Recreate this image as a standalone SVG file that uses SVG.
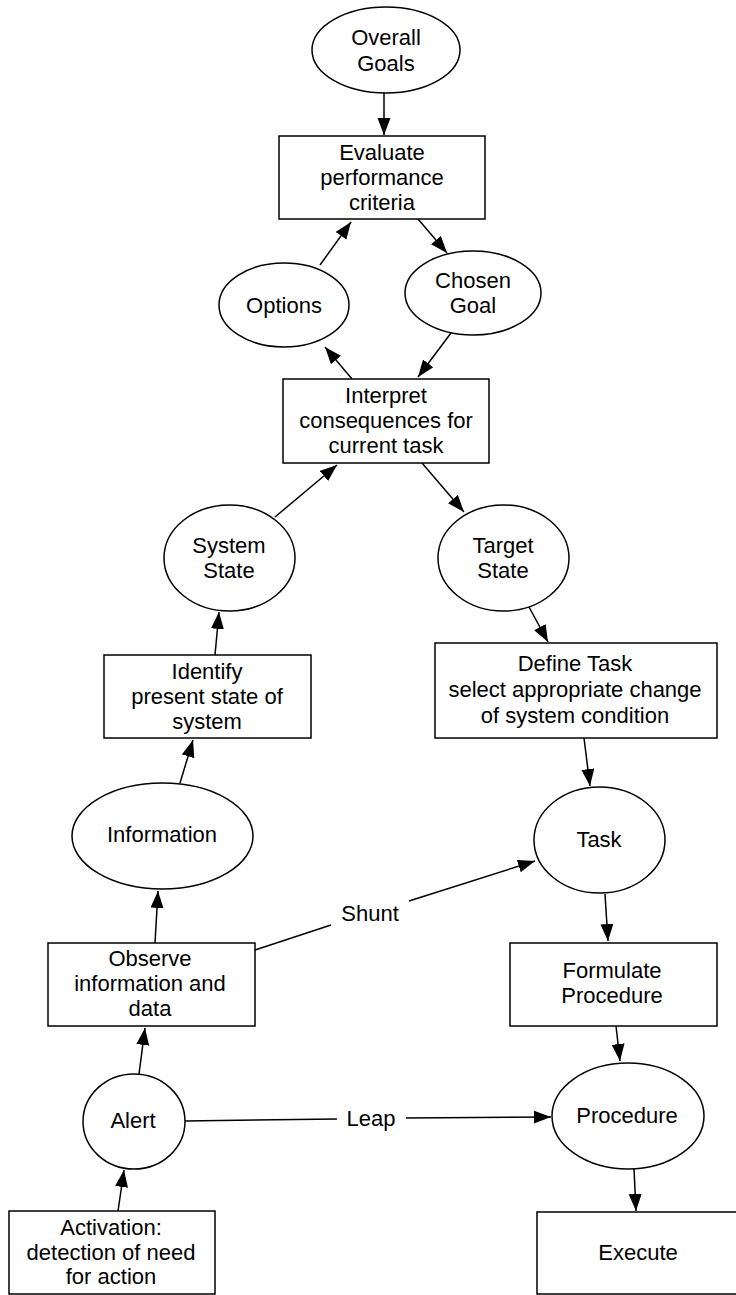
<svg xmlns="http://www.w3.org/2000/svg" width="736" height="1295" viewBox="0 0 736 1295">
  <style>
    .shape { fill: #ffffff; stroke: #000000; stroke-width: 1.5; }
    .edge { fill: none; stroke: #000000; stroke-width: 1.5; marker-end: url(#arrow); }
    .line { fill: none; stroke: #000000; stroke-width: 1.5; }
    text { font-family: "Liberation Sans", Arial, Helvetica, sans-serif; font-size: 22px; fill: #000000; text-anchor: middle; }
  </style>
  <defs>
    <marker id="arrow" markerUnits="userSpaceOnUse" markerWidth="18" markerHeight="14" refX="17" refY="6.5" orient="auto">
      <path d="M0,0 L17,6.5 L0,13 z" fill="#000000"/>
    </marker>
  </defs>
  <rect width="736" height="1295" fill="#ffffff"/>

  <!-- connectors -->
  <g id="connectors">
    <line class="edge" x1="384" y1="93" x2="384" y2="135"/>
    <line class="edge" x1="320" y1="265" x2="351" y2="222"/>
    <line class="edge" x1="418" y1="219" x2="447" y2="253"/>
    <line class="edge" x1="352" y1="379" x2="325" y2="347"/>
    <line class="edge" x1="451" y1="333" x2="418" y2="377"/>
    <line class="edge" x1="275" y1="517" x2="337" y2="465"/>
    <line class="edge" x1="422" y1="463" x2="464" y2="512"/>
    <line class="edge" x1="529" y1="607" x2="548" y2="642"/>
    <line class="edge" x1="215" y1="655" x2="219" y2="612"/>
    <line class="edge" x1="180" y1="783" x2="193" y2="740"/>
    <line class="edge" x1="584" y1="738" x2="590" y2="786"/>
    <line class="edge" x1="155" y1="943" x2="158" y2="891"/>
    <line class="edge" x1="605" y1="894" x2="608" y2="941"/>
    <line class="edge" x1="616" y1="1026" x2="620" y2="1061"/>
    <line class="edge" x1="139" y1="1074" x2="145" y2="1028"/>
    <line class="edge" x1="118" y1="1211" x2="124" y2="1170"/>
    <line class="edge" x1="634" y1="1169" x2="636" y2="1211"/>
    <!-- Shunt: Observe to Task -->
    <line class="line" x1="255" y1="950" x2="331" y2="925"/>
    <line class="edge" x1="409" y1="901" x2="535" y2="861"/>
    <text x="370" y="921">Shunt</text>
    <!-- Leap: Alert to Procedure -->
    <line class="line" x1="185" y1="1121" x2="337" y2="1119"/>
    <line class="edge" x1="406" y1="1118" x2="551" y2="1117"/>
    <text x="371" y="1126">Leap</text>
  </g>

  <g id="overall-goals">
    <ellipse class="shape" cx="386" cy="50" rx="74" ry="43"/>
    <text x="386" y="45">Overall</text>
    <text x="386" y="71">Goals</text>
  </g>

  <g id="evaluate">
    <rect class="shape" x="279" y="136" width="206" height="83"/>
    <text x="382" y="160">Evaluate</text>
    <text x="382" y="185">performance</text>
    <text x="382" y="210">criteria</text>
  </g>

  <g id="options">
    <ellipse class="shape" cx="284" cy="305" rx="65" ry="42"/>
    <text x="284" y="313">Options</text>
  </g>

  <g id="chosen-goal">
    <ellipse class="shape" cx="473" cy="293" rx="68" ry="42"/>
    <text x="473" y="288">Chosen</text>
    <text x="473" y="313">Goal</text>
  </g>

  <g id="interpret">
    <rect class="shape" x="283" y="379" width="206" height="84"/>
    <text x="386" y="403">Interpret</text>
    <text x="386" y="428">consequences for</text>
    <text x="386" y="453">current task</text>
  </g>

  <g id="system-state">
    <ellipse class="shape" cx="229.5" cy="558" rx="65.5" ry="53"/>
    <text x="229" y="553">System</text>
    <text x="229" y="578">State</text>
  </g>

  <g id="target-state">
    <ellipse class="shape" cx="503.5" cy="558" rx="65.5" ry="53"/>
    <text x="503" y="553">Target</text>
    <text x="503" y="578">State</text>
  </g>

  <g id="identify">
    <rect class="shape" x="104" y="655" width="207" height="83"/>
    <text x="207" y="679">Identify</text>
    <text x="207" y="704">present state of</text>
    <text x="207" y="729">system</text>
  </g>

  <g id="define-task">
    <rect class="shape" x="435" y="643" width="282" height="95"/>
    <text x="575" y="671">Define Task</text>
    <text x="575" y="697">select appropriate change</text>
    <text x="575" y="723">of system condition</text>
  </g>

  <g id="information">
    <ellipse class="shape" cx="162.5" cy="836" rx="90.5" ry="53"/>
    <text x="162" y="842">Information</text>
  </g>

  <g id="task">
    <ellipse class="shape" cx="599.5" cy="840" rx="65.5" ry="53"/>
    <text x="599" y="847">Task</text>
  </g>

  <g id="observe">
    <rect class="shape" x="48" y="943" width="207" height="83"/>
    <text x="150" y="966">Observe</text>
    <text x="150" y="991">information and</text>
    <text x="150" y="1016">data</text>
  </g>

  <g id="formulate">
    <rect class="shape" x="510" y="943" width="207" height="83"/>
    <text x="612" y="978">Formulate</text>
    <text x="612" y="1003">Procedure</text>
  </g>

  <g id="alert">
    <ellipse class="shape" cx="134" cy="1121.5" rx="51" ry="47.5"/>
    <text x="133" y="1128">Alert</text>
  </g>

  <g id="procedure">
    <ellipse class="shape" cx="628" cy="1116" rx="76" ry="53"/>
    <text x="627" y="1123">Procedure</text>
  </g>

  <g id="activation">
    <rect class="shape" x="9" y="1211" width="206" height="83"/>
    <text x="111" y="1235">Activation:</text>
    <text x="111" y="1260">detection of need</text>
    <text x="111" y="1284">for action</text>
  </g>

  <g id="execute">
    <rect class="shape" x="537" y="1212" width="204" height="82"/>
    <text x="638" y="1260">Execute</text>
  </g>
</svg>
